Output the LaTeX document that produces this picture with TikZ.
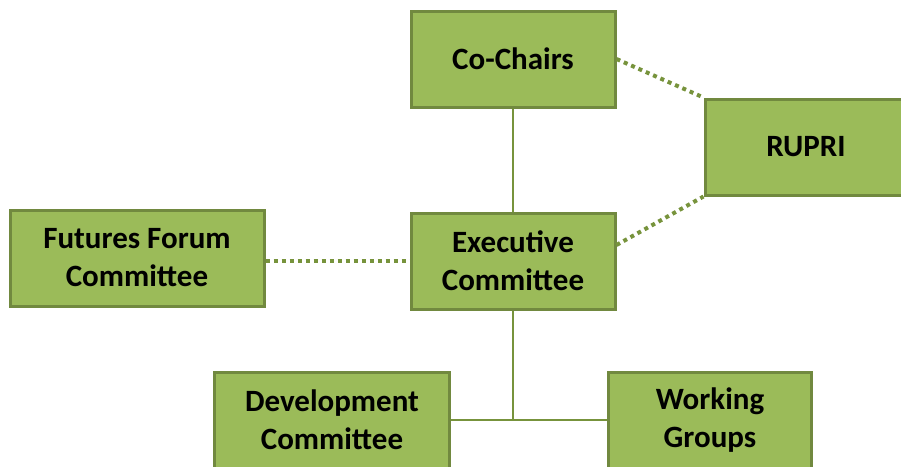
\documentclass[tikz,border=0pt]{standalone}
\usepackage{fontspec}
\setmainfont{Carlito}
\usepackage{tikz}
\usetikzlibrary{positioning}
\definecolor{boxfill}{RGB}{155,187,89}
\definecolor{boxline}{RGB}{113,137,63}
\definecolor{linkline}{RGB}{119,147,60}

\tikzset{
  unit/.style={draw=boxline, line width=3pt, fill=boxfill, inner sep=0pt,
    minimum width=204, minimum height=96, align=center,
    font=\fontsize{31}{38}\selectfont\bfseries},
  solidlink/.style={draw=linkline, line width=2.5pt},
  dotlink/.style={draw=linkline, line width=4pt, dash pattern=on 4pt off 4pt}
}

\begin{document}
\begin{tikzpicture}[x=1pt,y=-1pt]
\useasboundingbox (0,0) rectangle (901,466);

% Boxes
\node [unit] (cochairs) at (513,59) {Co-Chairs};
\node [unit, minimum width=202] (rupri) at (806,147) {RUPRI};
\node [unit, minimum width=254] (futures) at (137,258) {Futures Forum\\Committee};
\node [unit] (exec) at (513,261) {Executive\\Committee};
\node [unit, minimum width=235] (devel) at (332,420) {Development\\Committee};
\node [unit, minimum width=203] (groups) at (710,420) {Working\\Groups};

% Solid links
\draw [solidlink] (cochairs) -- (exec);
\draw [solidlink] (exec.south) -- (exec.south |- devel.east);
\draw [solidlink] (devel.east) -- (groups.west);

% Dotted links
\draw [dotlink] (cochairs.east) -- (rupri.north west);
\draw [dotlink] ([yshift=16pt]exec.east) -- (rupri.south west);
\draw [dotlink] (exec.west -| futures.east) -- (exec.west);

\end{tikzpicture}
\end{document}
